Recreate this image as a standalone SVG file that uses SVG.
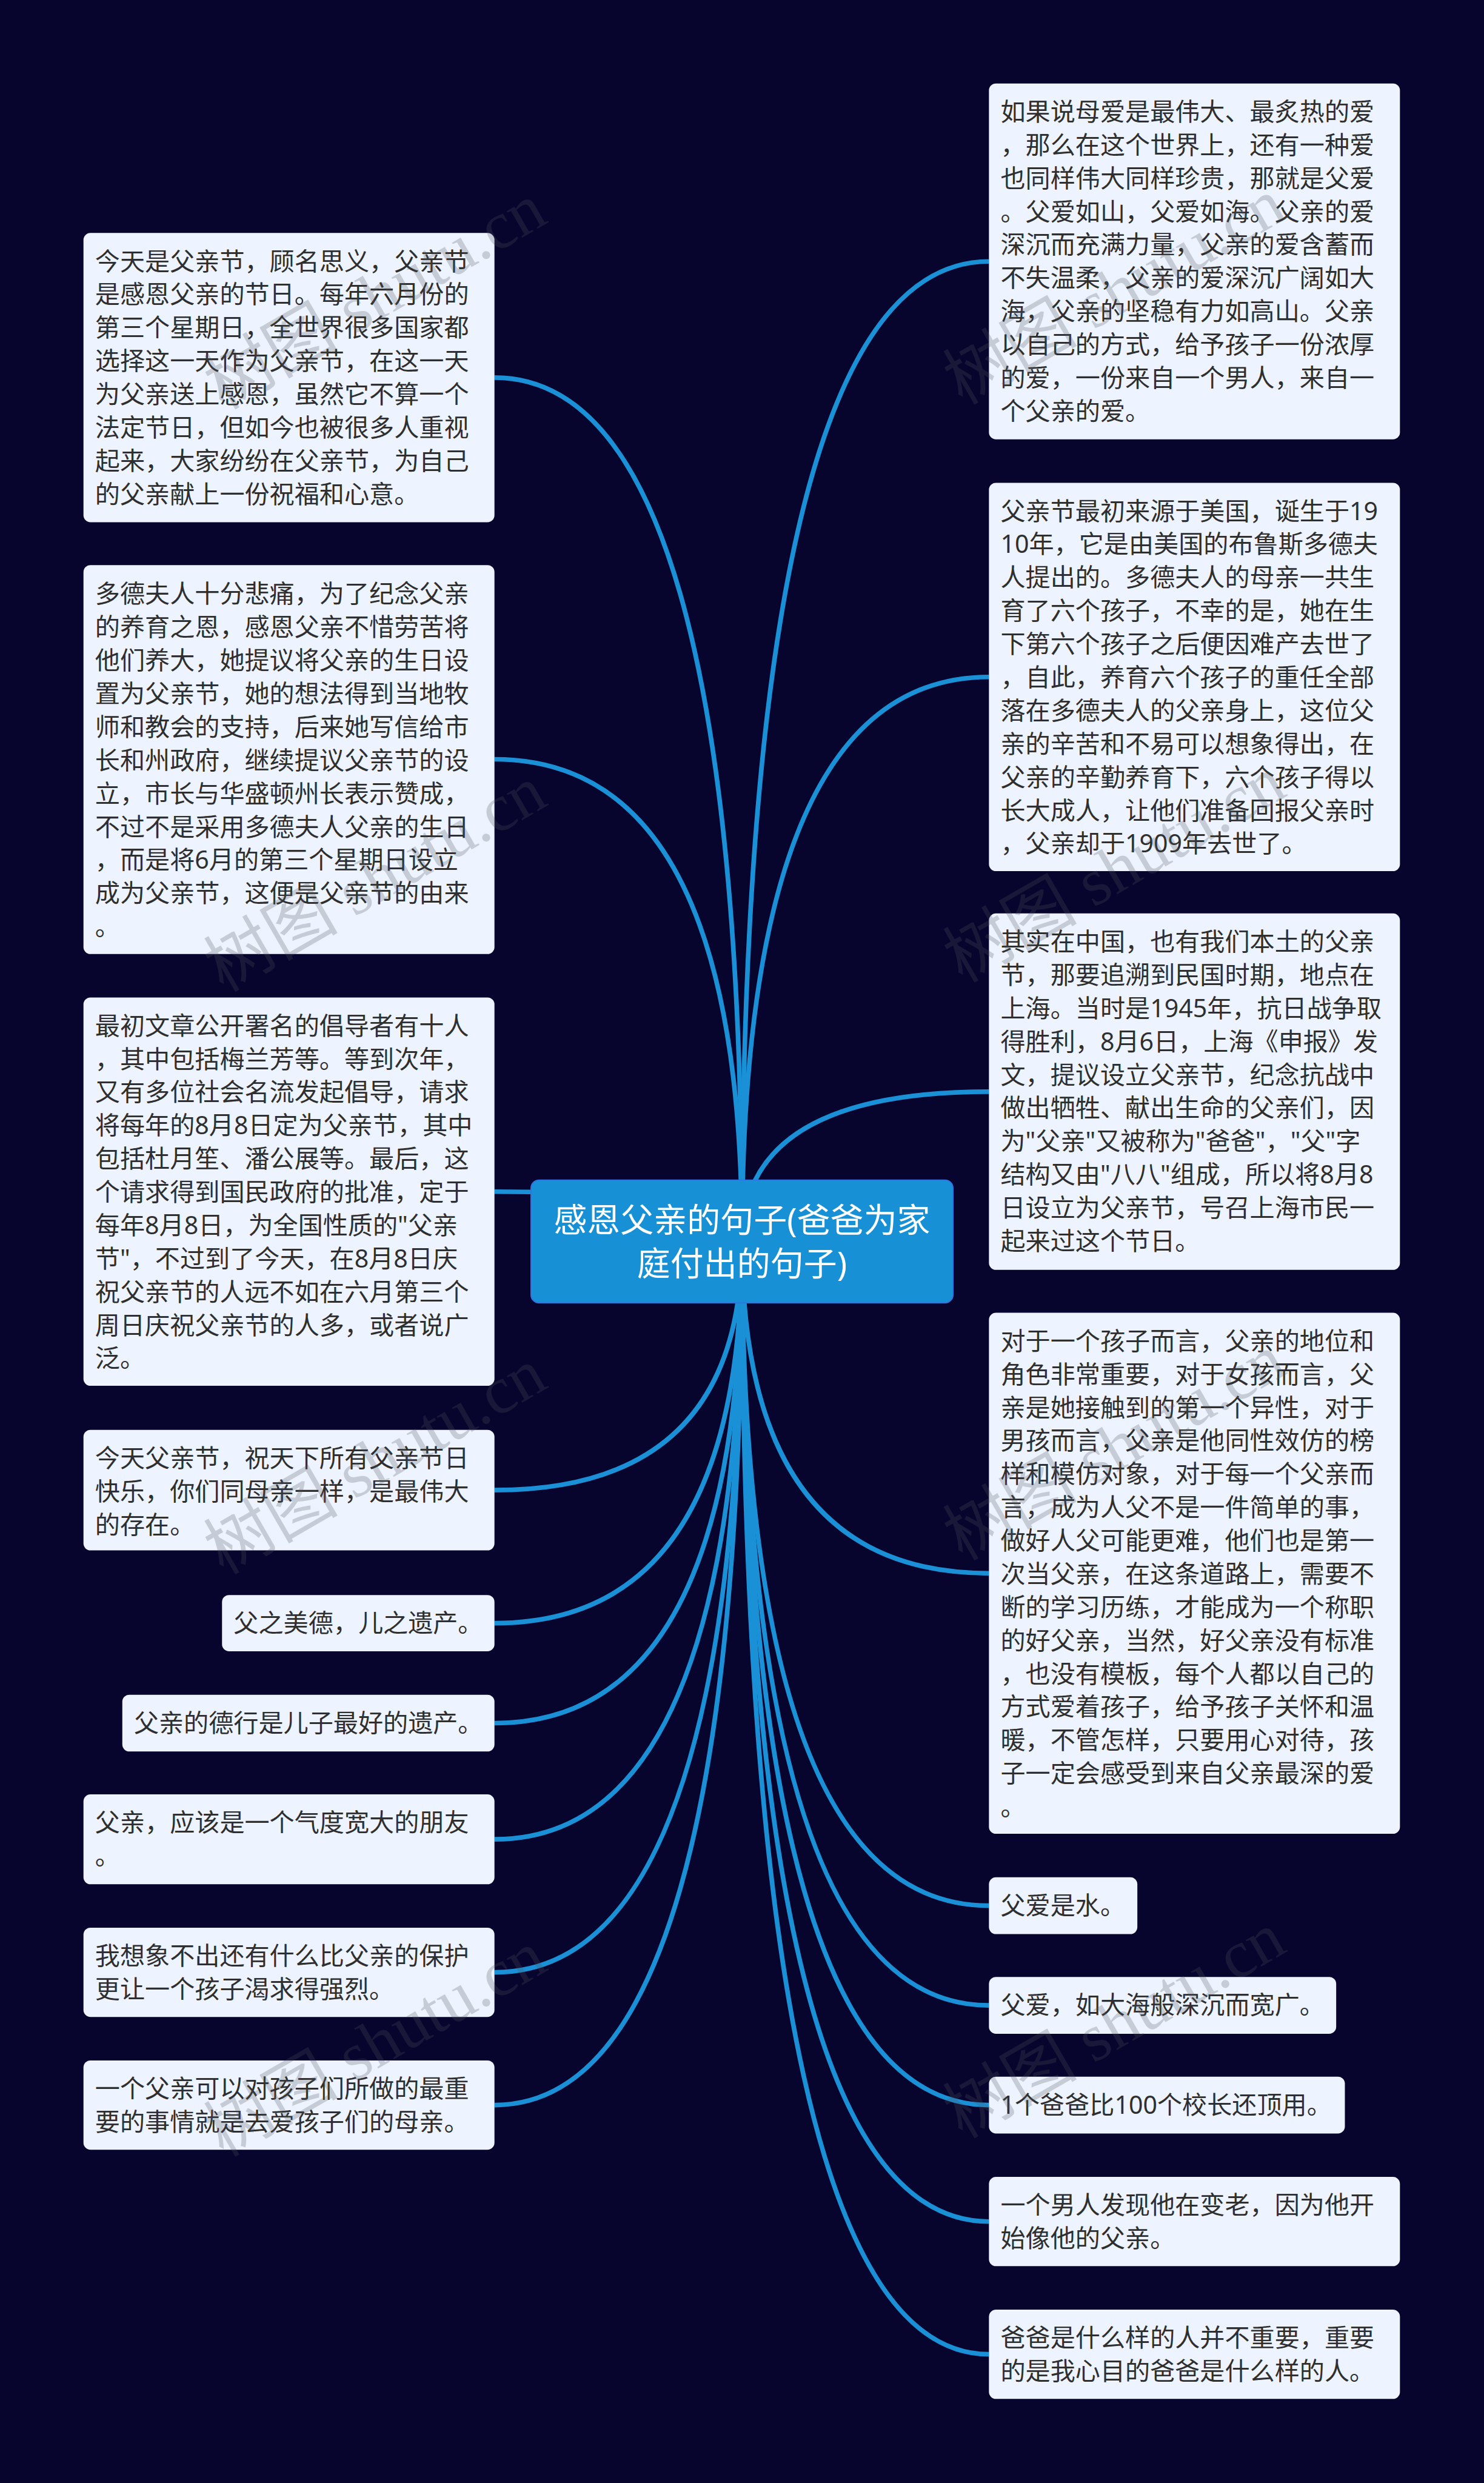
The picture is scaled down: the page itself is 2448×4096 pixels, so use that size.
<svg xmlns="http://www.w3.org/2000/svg" width="2448" height="4096" viewBox="0 0 2448 4096">
<defs>
<style>
.bg{fill:#07042d}
.box{fill:#eef4ff}
.t{font-family:"Noto Sans","Noto Sans CJK SC",sans-serif;font-size:43px;fill:#2f2f2f}
.ct{font-family:"Noto Sans","Noto Sans CJK SC",sans-serif;font-size:57.5px;fill:#ffffff;text-anchor:middle}
.root{fill:#1890d5;stroke:#2f74e4;stroke-width:2}
#connectors path{fill:none;stroke:#1a91d6;stroke-width:8}
.wm{font-family:"Liberation Serif","Noto Sans CJK SC",serif;font-size:116px;fill:rgba(80,85,90,.25)}
</style>
</defs>
<rect class="bg" width="2448" height="4096"/>
<g transform="scale(0.95625 0.9561)" lang="zh-CN">
<g id="connectors">
<path d="M1280 2142Q1280 651.5 853 651.5"/>
<path d="M1280 2142Q1280 1310 853 1310"/>
<path d="M1280 2142Q1280 2056 853 2056"/>
<path d="M1280 2142Q1280 2571 853 2571"/>
<path d="M1280 2142Q1280 2800.5 853 2800.5"/>
<path d="M1280 2142Q1280 2973 853 2973"/>
<path d="M1280 2142Q1280 3173.5 853 3173.5"/>
<path d="M1280 2142Q1280 3403 853 3403"/>
<path d="M1280 2142Q1280 3632 853 3632"/>
<path d="M1280 2142Q1280 451 1706 451"/>
<path d="M1280 2142Q1280 1168 1706 1168"/>
<path d="M1280 2142Q1280 1883.5 1706 1883.5"/>
<path d="M1280 2142Q1280 2714.5 1706 2714.5"/>
<path d="M1280 2142Q1280 3288 1706 3288"/>
<path d="M1280 2142Q1280 3460 1706 3460"/>
<path d="M1280 2142Q1280 3632 1706 3632"/>
<path d="M1280 2142Q1280 3833 1706 3833"/>
<path d="M1280 2142Q1280 4062 1706 4062"/>
</g>
<g id="root"><rect class="root" x="916" y="2036" width="728" height="212" rx="14"/>
<text class="ct"><tspan x="1280" y="2125">感恩父亲的句子(爸爸为家</tspan><tspan x="1280" y="2201">庭付出的句子)</tspan></text></g>

<g id="l1"><rect class="box" x="144" y="402" width="709" height="499" rx="12"/>
<text class="t" y="466"><tspan x="164">今天是父亲节，顾名思义，父亲节</tspan><tspan x="164" dy="57.4">是感恩父亲的节日。每年六月份的</tspan><tspan x="164" dy="57.4">第三个星期日，全世界很多国家都</tspan><tspan x="164" dy="57.4">选择这一天作为父亲节，在这一天</tspan><tspan x="164" dy="57.4">为父亲送上感恩，虽然它不算一个</tspan><tspan x="164" dy="57.4">法定节日，但如今也被很多人重视</tspan><tspan x="164" dy="57.4">起来，大家纷纷在父亲节，为自己</tspan><tspan x="164" dy="57.4">的父亲献上一份祝福和心意。</tspan></text></g>

<g id="l2"><rect class="box" x="144" y="975" width="709" height="671" rx="12"/>
<text class="t" y="1040"><tspan x="164">多德夫人十分悲痛，为了纪念父亲</tspan><tspan x="164" dy="57.4">的养育之恩，感恩父亲不惜劳苦将</tspan><tspan x="164" dy="57.4">他们养大，她提议将父亲的生日设</tspan><tspan x="164" dy="57.4">置为父亲节，她的想法得到当地牧</tspan><tspan x="164" dy="57.4">师和教会的支持，后来她写信给市</tspan><tspan x="164" dy="57.4">长和州政府，继续提议父亲节的设</tspan><tspan x="164" dy="57.4">立，市长与华盛顿州长表示赞成，</tspan><tspan x="164" dy="57.4">不过不是采用多德夫人父亲的生日</tspan><tspan x="164" dy="57.4">，而是将6月的第三个星期日设立</tspan><tspan x="164" dy="57.4">成为父亲节，这便是父亲节的由来</tspan><tspan x="164" dy="57.4">。</tspan></text></g>

<g id="l3"><rect class="box" x="144" y="1721" width="709" height="670" rx="12"/>
<text class="t" y="1785"><tspan x="164">最初文章公开署名的倡导者有十人</tspan><tspan x="164" dy="57.4">，其中包括梅兰芳等。等到次年，</tspan><tspan x="164" dy="57.4">又有多位社会名流发起倡导，请求</tspan><tspan x="164" dy="57.4">将每年的8月8日定为父亲节，其中</tspan><tspan x="164" dy="57.4">包括杜月笙、潘公展等。最后，这</tspan><tspan x="164" dy="57.4">个请求得到国民政府的批准，定于</tspan><tspan x="164" dy="57.4">每年8月8日，为全国性质的"父亲</tspan><tspan x="164" dy="57.4">节"，不过到了今天，在8月8日庆</tspan><tspan x="164" dy="57.4">祝父亲节的人远不如在六月第三个</tspan><tspan x="164" dy="57.4">周日庆祝父亲节的人多，或者说广</tspan><tspan x="164" dy="57.4">泛。</tspan></text></g>

<g id="l4"><rect class="box" x="144" y="2467" width="709" height="208" rx="12"/>
<text class="t" y="2531"><tspan x="164">今天父亲节，祝天下所有父亲节日</tspan><tspan x="164" dy="57.4">快乐，你们同母亲一样，是最伟大</tspan><tspan x="164" dy="57.4">的存在。</tspan></text></g>

<g id="l5"><rect class="box" x="383" y="2752" width="470" height="97" rx="12"/>
<text class="t" x="403" y="2816">父之美德，儿之遗产。</text></g>

<g id="l6"><rect class="box" x="211" y="2924" width="642" height="98" rx="12"/>
<text class="t" x="231" y="2988">父亲的德行是儿子最好的遗产。</text></g>

<g id="l7"><rect class="box" x="144" y="3096" width="709" height="155" rx="12"/>
<text class="t" y="3160"><tspan x="164">父亲，应该是一个气度宽大的朋友</tspan><tspan x="164" dy="57.4">。</tspan></text></g>

<g id="l8"><rect class="box" x="144" y="3326" width="709" height="154" rx="12"/>
<text class="t" y="3390"><tspan x="164">我想象不出还有什么比父亲的保护</tspan><tspan x="164" dy="57.4">更让一个孩子渴求得强烈。</tspan></text></g>

<g id="l9"><rect class="box" x="144" y="3555" width="709" height="154" rx="12"/>
<text class="t" y="3619"><tspan x="164">一个父亲可以对孩子们所做的最重</tspan><tspan x="164" dy="57.4">要的事情就是去爱孩子们的母亲。</tspan></text></g>

<g id="r1"><rect class="box" x="1706" y="144" width="709" height="614" rx="12"/>
<text class="t" y="208"><tspan x="1726">如果说母爱是最伟大、最炙热的爱</tspan><tspan x="1726" dy="57.4">，那么在这个世界上，还有一种爱</tspan><tspan x="1726" dy="57.4">也同样伟大同样珍贵，那就是父爱</tspan><tspan x="1726" dy="57.4">。父爱如山，父爱如海。父亲的爱</tspan><tspan x="1726" dy="57.4">深沉而充满力量，父亲的爱含蓄而</tspan><tspan x="1726" dy="57.4">不失温柔，父亲的爱深沉广阔如大</tspan><tspan x="1726" dy="57.4">海，父亲的坚稳有力如高山。父亲</tspan><tspan x="1726" dy="57.4">以自己的方式，给予孩子一份浓厚</tspan><tspan x="1726" dy="57.4">的爱，一份来自一个男人，来自一</tspan><tspan x="1726" dy="57.4">个父亲的爱。</tspan></text></g>

<g id="r2"><rect class="box" x="1706" y="833" width="709" height="670" rx="12"/>
<text class="t" y="897"><tspan x="1726">父亲节最初来源于美国，诞生于19</tspan><tspan x="1726" dy="57.4">10年，它是由美国的布鲁斯多德夫</tspan><tspan x="1726" dy="57.4">人提出的。多德夫人的母亲一共生</tspan><tspan x="1726" dy="57.4">育了六个孩子，不幸的是，她在生</tspan><tspan x="1726" dy="57.4">下第六个孩子之后便因难产去世了</tspan><tspan x="1726" dy="57.4">，自此，养育六个孩子的重任全部</tspan><tspan x="1726" dy="57.4">落在多德夫人的父亲身上，这位父</tspan><tspan x="1726" dy="57.4">亲的辛苦和不易可以想象得出，在</tspan><tspan x="1726" dy="57.4">父亲的辛勤养育下，六个孩子得以</tspan><tspan x="1726" dy="57.4">长大成人，让他们准备回报父亲时</tspan><tspan x="1726" dy="57.4">，父亲却于1909年去世了。</tspan></text></g>

<g id="r3"><rect class="box" x="1706" y="1576" width="709" height="615" rx="12"/>
<text class="t" y="1640"><tspan x="1726">其实在中国，也有我们本土的父亲</tspan><tspan x="1726" dy="57.4">节，那要追溯到民国时期，地点在</tspan><tspan x="1726" dy="57.4">上海。当时是1945年，抗日战争取</tspan><tspan x="1726" dy="57.4">得胜利，8月6日，上海《申报》发</tspan><tspan x="1726" dy="57.4">文，提议设立父亲节，纪念抗战中</tspan><tspan x="1726" dy="57.4">做出牺牲、献出生命的父亲们，因</tspan><tspan x="1726" dy="57.4">为"父亲"又被称为"爸爸"，"父"字</tspan><tspan x="1726" dy="57.4">结构又由"八八"组成，所以将8月8</tspan><tspan x="1726" dy="57.4">日设立为父亲节，号召上海市民一</tspan><tspan x="1726" dy="57.4">起来过这个节日。</tspan></text></g>

<g id="r4"><rect class="box" x="1706" y="2265" width="709" height="899" rx="12"/>
<text class="t" y="2329"><tspan x="1726">对于一个孩子而言，父亲的地位和</tspan><tspan x="1726" dy="57.4">角色非常重要，对于女孩而言，父</tspan><tspan x="1726" dy="57.4">亲是她接触到的第一个异性，对于</tspan><tspan x="1726" dy="57.4">男孩而言，父亲是他同性效仿的榜</tspan><tspan x="1726" dy="57.4">样和模仿对象，对于每一个父亲而</tspan><tspan x="1726" dy="57.4">言，成为人父不是一件简单的事，</tspan><tspan x="1726" dy="57.4">做好人父可能更难，他们也是第一</tspan><tspan x="1726" dy="57.4">次当父亲，在这条道路上，需要不</tspan><tspan x="1726" dy="57.4">断的学习历练，才能成为一个称职</tspan><tspan x="1726" dy="57.4">的好父亲，当然，好父亲没有标准</tspan><tspan x="1726" dy="57.4">，也没有模板，每个人都以自己的</tspan><tspan x="1726" dy="57.4">方式爱着孩子，给予孩子关怀和温</tspan><tspan x="1726" dy="57.4">暖，不管怎样，只要用心对待，孩</tspan><tspan x="1726" dy="57.4">子一定会感受到来自父亲最深的爱</tspan><tspan x="1726" dy="57.4">。</tspan></text></g>

<g id="r5"><rect class="box" x="1706" y="3239" width="256" height="98" rx="12"/>
<text class="t" x="1726" y="3303">父爱是水。</text></g>

<g id="r6"><rect class="box" x="1706" y="3411" width="599" height="98" rx="12"/>
<text class="t" x="1726" y="3475">父爱，如大海般深沉而宽广。</text></g>

<g id="r7"><rect class="box" x="1706" y="3583" width="614" height="98" rx="12"/>
<text class="t" x="1726" y="3647">1个爸爸比100个校长还顶用。</text></g>

<g id="r8"><rect class="box" x="1706" y="3756" width="709" height="154" rx="12"/>
<text class="t" y="3820"><tspan x="1726">一个男人发现他在变老，因为他开</tspan><tspan x="1726" dy="57.4">始像他的父亲。</tspan></text></g>

<g id="r9"><rect class="box" x="1706" y="3985" width="709" height="154" rx="12"/>
<text class="t" y="4049"><tspan x="1726">爸爸是什么样的人并不重要，重要</tspan><tspan x="1726" dy="57.4">的是我心目的爸爸是什么样的人。</tspan></text></g>

<g id="watermarks">
<text class="wm" transform="translate(385 708) rotate(-30)">树图 shutu.cn</text>
<text class="wm" transform="translate(385 1713) rotate(-30)">树图 shutu.cn</text>
<text class="wm" transform="translate(385 2718) rotate(-30)">树图 shutu.cn</text>
<text class="wm" transform="translate(385 3723) rotate(-30)">树图 shutu.cn</text>
<text class="wm" transform="translate(1660 700) rotate(-30)">树图 shutu.cn</text>
<text class="wm" transform="translate(1660 1697) rotate(-30)">树图 shutu.cn</text>
<text class="wm" transform="translate(1660 2694) rotate(-30)">树图 shutu.cn</text>
<text class="wm" transform="translate(1660 3691) rotate(-30)">树图 shutu.cn</text>
</g>
</g>
</svg>
